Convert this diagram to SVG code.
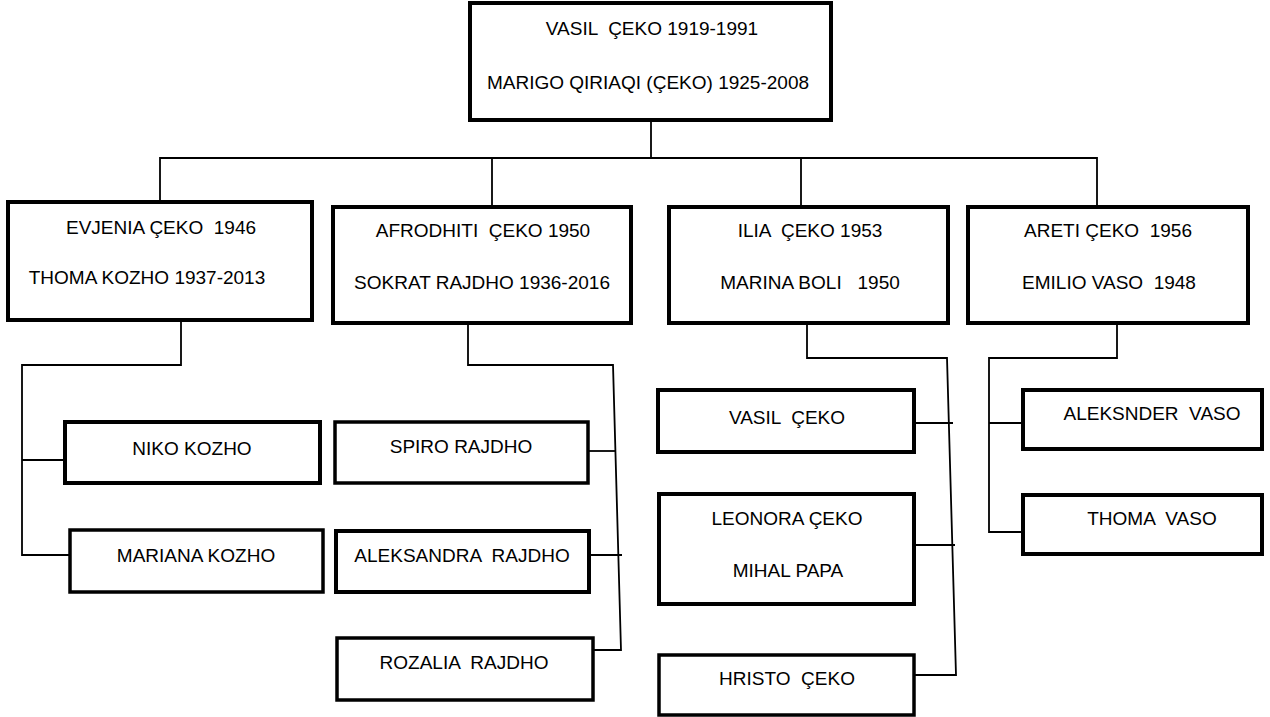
<svg xmlns="http://www.w3.org/2000/svg" width="1270" height="717" viewBox="0 0 1270 717">
  <style>
    .box { fill: #ffffff; stroke: #000000; stroke-width: 4; }
    .box.thin { stroke-width: 3.5; }
    .lbl { font-family: "Liberation Sans", Arial, sans-serif; font-size: 19px; fill: #000000; text-anchor: middle; white-space: pre; }
    .conn path { fill: none; stroke: #000000; stroke-width: 1.8; stroke-linejoin: miter; }
  </style>
  <rect width="1270" height="717" fill="#ffffff"/>

  <!-- connectors -->
  <g id="connectors" class="conn">
    <!-- parents to children row -->
    <path d="M651,120 V158"/>
    <path d="M160,202 V158 H1097 V207"/>
    <path d="M492,158 V207"/>
    <path d="M801,158 V207"/>
    <!-- Evjenia's children -->
    <path d="M181,320 V365 H22 V555 H70"/>
    <path d="M22,460 H65"/>
    <!-- Afrodhiti's children -->
    <path d="M468,323 V365 H613 L621,650 H593"/>
    <path d="M588,451 H616"/>
    <path d="M589,555 H622"/>
    <!-- Ilia's children -->
    <path d="M807,323 V358 H947 L956,675 H914"/>
    <path d="M914,423 H953"/>
    <path d="M914,545 H955"/>
    <!-- Areti's children -->
    <path d="M1117,323 V358 H989 V532 H1023"/>
    <path d="M989,423 H1023"/>
  </g>

  <!-- generation 1 -->
  <g id="vasil-marigo">
    <rect class="box" x="470" y="3" width="361" height="117"/>
    <text class="lbl" x="652" y="35">VASIL  ÇEKO 1919-1991</text>
    <text class="lbl" x="648" y="89">MARIGO QIRIAQI (ÇEKO) 1925-2008</text>
  </g>

  <!-- generation 2 -->
  <g id="evjenia-thoma">
    <rect class="box" x="8" y="202" width="304" height="118"/>
    <text class="lbl" x="161" y="234">EVJENIA ÇEKO  1946</text>
    <text class="lbl" x="147" y="284">THOMA KOZHO 1937-2013</text>
  </g>
  <g id="afrodhiti-sokrat">
    <rect class="box" x="333" y="207" width="298" height="116"/>
    <text class="lbl" x="483" y="237">AFRODHITI  ÇEKO 1950</text>
    <text class="lbl" x="482" y="289">SOKRAT RAJDHO 1936-2016</text>
  </g>
  <g id="ilia-marina">
    <rect class="box" x="669" y="207" width="279" height="116"/>
    <text class="lbl" x="810" y="237">ILIA  ÇEKO 1953</text>
    <text class="lbl" x="810" y="289">MARINA BOLI   1950</text>
  </g>
  <g id="areti-emilio">
    <rect class="box" x="968" y="207" width="280" height="116"/>
    <text class="lbl" x="1108" y="237">ARETI ÇEKO  1956</text>
    <text class="lbl" x="1109" y="289">EMILIO VASO  1948</text>
  </g>

  <!-- generation 3 -->
  <g id="niko">
    <rect class="box" x="65" y="422" width="255" height="61"/>
    <text class="lbl" x="192" y="455">NIKO KOZHO</text>
  </g>
  <g id="mariana">
    <rect class="box thin" x="70" y="530" width="253" height="62"/>
    <text class="lbl" x="196" y="562">MARIANA KOZHO</text>
  </g>
  <g id="spiro">
    <rect class="box thin" x="335" y="422" width="253" height="61"/>
    <text class="lbl" x="461" y="453">SPIRO RAJDHO</text>
  </g>
  <g id="aleksandra">
    <rect class="box" x="336" y="531" width="253" height="61"/>
    <text class="lbl" x="462" y="562">ALEKSANDRA  RAJDHO</text>
  </g>
  <g id="rozalia">
    <rect class="box thin" x="337" y="638" width="256" height="62"/>
    <text class="lbl" x="464" y="669">ROZALIA  RAJDHO</text>
  </g>
  <g id="vasil">
    <rect class="box" x="658" y="390" width="256" height="62"/>
    <text class="lbl" x="787" y="424">VASIL  ÇEKO</text>
  </g>
  <g id="leonora-mihal">
    <rect class="box" x="659" y="494" width="255" height="110"/>
    <text class="lbl" x="787" y="525">LEONORA ÇEKO</text>
    <text class="lbl" x="788" y="577">MIHAL PAPA</text>
  </g>
  <g id="hristo">
    <rect class="box thin" x="659" y="655" width="255" height="60"/>
    <text class="lbl" x="787" y="685">HRISTO  ÇEKO</text>
  </g>
  <g id="aleksnder">
    <rect class="box" x="1023" y="390" width="239" height="59"/>
    <text class="lbl" x="1152" y="420">ALEKSNDER  VASO</text>
  </g>
  <g id="thoma-vaso">
    <rect class="box" x="1023" y="495" width="239" height="59"/>
    <text class="lbl" x="1152" y="525">THOMA  VASO</text>
  </g>
</svg>
